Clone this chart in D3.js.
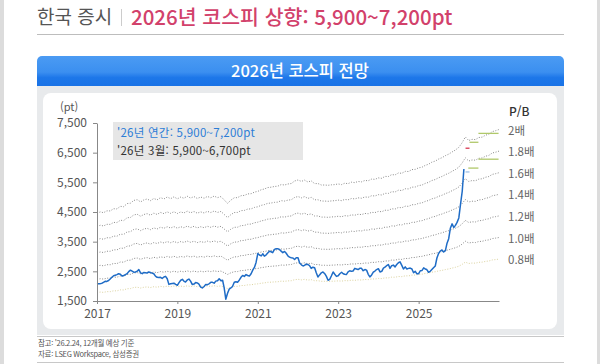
<!DOCTYPE html>
<html lang="ko">
<head>
<meta charset="UTF-8">
<title>2026년 코스피 전망</title>
<script src="https://cdn.jsdelivr.net/npm/d3@7"></script>
<style>
  html, body { margin: 0; padding: 0; background: #fff; }
  svg { display: block; font-family: "Noto Sans CJK KR", "Noto Sans", sans-serif; }
</style>
</head>
<body>
<script>
// KOSPI, 매월 1일/16일 값 (2017.1 ~ 2026.2)
var kospi = [
  2070, 2080, 2085, 2100, 2130, 2165, 2160, 2190, 2240, 2300, 2350, 2370, 2390, 2420, 2400, 2340, 2360, 2390, 2420, 2490, 2540, 2510, 2470, 2480,
  2500, 2560, 2450, 2420, 2460, 2450, 2440, 2480, 2460, 2440, 2420, 2340, 2300, 2290, 2300, 2260, 2310, 2330, 2250, 2060, 2080, 2090, 2100, 2060,
  2030, 2120, 2200, 2230, 2170, 2140, 2210, 2240, 2170, 2060, 2070, 2120, 2110, 2070, 1970, 1940, 1990, 2060, 2050, 2080, 2130, 2130, 2100, 2170,
  2180, 2250, 2180, 2200, 1950, 1560, 1760, 1900, 1940, 1990, 2130, 2150, 2130, 2200, 2300, 2360, 2330, 2390, 2360, 2340, 2420, 2540, 2630, 2800,
  3100, 3050, 3020, 3090, 3010, 3050, 3120, 3180, 3160, 3130, 3240, 3260, 3260, 3240, 3180, 3130, 3170, 3110, 3020, 2980, 2960, 2950, 2900, 2960,
  2960, 2780, 2720, 2680, 2700, 2740, 2730, 2690, 2600, 2640, 2620, 2450, 2310, 2380, 2450, 2480, 2420, 2330, 2200, 2230, 2350, 2480, 2400, 2330,
  2350, 2420, 2470, 2420, 2400, 2390, 2480, 2520, 2500, 2510, 2600, 2580, 2560, 2600, 2600, 2520, 2560, 2540, 2400, 2310, 2380, 2470, 2510, 2560,
  2590, 2480, 2500, 2610, 2640, 2690, 2730, 2600, 2690, 2710, 2650, 2730, 2790, 2820, 2700, 2580, 2650, 2580, 2600, 2610, 2580, 2450, 2500, 2420,
  2420, 2520, 2530, 2620, 2580, 2560, 2470, 2500, 2560, 2620, 2680, 2950, 3100, 3180, 3220, 3150, 3200, 3450, 3600, 3950, 4100, 3980, 4050, 4150,
  4300, 4750, 5200, 5950
];

// 12개월 선행 BPS (P/B 1.0배), 월초 기준 2017.1 ~ 2027.1
var bps = [
  2230, 2252, 2238, 2270, 2268, 2305, 2302, 2345, 2340, 2392, 2398, 2445,
  2458, 2420, 2452, 2470, 2440, 2478, 2455, 2492, 2470, 2502, 2475, 2505,
  2472, 2502, 2482, 2515, 2485, 2510, 2478, 2502, 2482, 2512, 2490, 2518,
  2492, 2510, 2455, 2395, 2450, 2490, 2492, 2525, 2530, 2555, 2558, 2585,
  2598, 2625, 2638, 2662, 2668, 2680, 2685, 2712, 2705, 2722, 2730, 2772,
  2790, 2765, 2788, 2755, 2775, 2728, 2730, 2705, 2705, 2700, 2708, 2712,
  2723, 2712, 2735, 2728, 2752, 2745, 2765, 2758, 2782, 2776, 2805, 2800,
  2825, 2818, 2850, 2848, 2880, 2875, 2908, 2902, 2935, 2932, 2965, 2968,
  2995, 3005, 3035, 3055, 3090, 3108, 3142, 3165, 3200, 3225, 3262, 3295,
  3340, 3420, 3515, 3455, 3475, 3470, 3505, 3512, 3545, 3560, 3605, 3620,
  3640
];

var pbMultiples = [2.0, 1.8, 1.6, 1.4, 1.2, 1.0, 0.8];
var pbLabels = ["2배", "1.8배", "1.6배", "1.4배", "1.2배", "1.0배", "0.8배"];

var yTicks = [1500, 2500, 3500, 4500, 5500, 6500, 7500];
var xTickYears = [2017, 2019, 2021, 2023, 2025];

// 전망 구간 표시
var targetFrom = ["2026-06-28", "2026-06-28", "2026-04-08", "2026-03-28", "2026-03-03", "2026-03-03"];
var targetTo = ["2026-12-28", "2026-12-28", "2026-06-28", "2026-06-28", "2026-04-08", "2026-04-08"];
var targetValues = [7150, 6280, 6850, 5980, 6650, 5850];
var targetKind = ["annual", "annual", "annual", "annual", "march", "last"];

var W = 600, H = 364;
var svg = d3.select("body").append("svg")
    .attr("width", W)
    .attr("height", H);

var defs = svg.append("defs");
var grad = defs.append("linearGradient")
    .attr("id", "hdr")
    .attr("x1", 0).attr("y1", 0).attr("x2", 0).attr("y2", 1);
grad.append("stop").attr("offset", "0").attr("stop-color", "#4b9bf3");
grad.append("stop").attr("offset", "0.45").attr("stop-color", "#3b8ff0");
grad.append("stop").attr("offset", "0.6").attr("stop-color", "#1d77e9");
grad.append("stop").attr("offset", "1").attr("stop-color", "#176fe4");

// page edges
svg.append("rect").attr("x", 0).attr("y", 0).attr("width", 4).attr("height", H).attr("fill", "#dcdcdc");
svg.append("rect").attr("x", 597).attr("y", 0).attr("width", 3).attr("height", H).attr("fill", "#dcdcdc");

// title
svg.append("text")
    .attr("x", 37).attr("y", 24)
    .attr("font-size", 19)
    .attr("fill", "#555")
    .text("한국 증시");
svg.append("line")
    .attr("x1", 121.5).attr("x2", 121.5)
    .attr("y1", 9).attr("y2", 26)
    .attr("stroke", "#ccc");
svg.append("text")
    .attr("x", 131).attr("y", 24.5)
    .attr("font-size", 20.5)
    .attr("font-weight", 500)
    .attr("fill", "#d2416b")
    .text("2026년 코스피 상향: 5,900~7,200pt");
svg.append("line")
    .attr("x1", 37).attr("x2", 564)
    .attr("y1", 34.5).attr("y2", 34.5)
    .attr("stroke", "#bdbdbd");

// header bar + panel
svg.append("rect")
    .attr("x", 37).attr("y", 56)
    .attr("width", 527).attr("height", 36)
    .attr("rx", 5)
    .attr("fill", "url(#hdr)");
svg.append("rect")
    .attr("x", 37).attr("y", 86)
    .attr("width", 527).attr("height", 249)
    .attr("fill", "#e8eaec");
svg.append("text")
    .attr("x", 300).attr("y", 77)
    .attr("text-anchor", "middle")
    .attr("font-size", 16.5)
    .attr("font-weight", 500)
    .attr("fill", "#fff")
    .text("2026년 코스피 전망");
svg.append("rect")
    .attr("x", 43).attr("y", 93)
    .attr("width", 514).attr("height", 236)
    .attr("rx", 8)
    .attr("fill", "#fff");

// notes
svg.append("line").attr("x1", 37).attr("x2", 564).attr("y1", 336.5).attr("y2", 336.5).attr("stroke", "#c8c8c8");
svg.append("line").attr("x1", 37).attr("x2", 564).attr("y1", 362.5).attr("y2", 362.5).attr("stroke", "#c8c8c8");
svg.append("text")
    .attr("x", 38).attr("y", 346)
    .attr("font-size", 7.5)
    .attr("fill", "#555")
    .attr("letter-spacing", -0.3)
    .text("참고: '26.2.24, 12개월 예상 기준");
svg.append("text")
    .attr("x", 38).attr("y", 357)
    .attr("font-size", 7.5)
    .attr("fill", "#555")
    .attr("letter-spacing", -0.3)
    .text("자료: LSEG Workspace, 삼성증권");

// scales
var x = d3.scaleTime()
    .domain([new Date(2017, 0, 1), new Date(2027, 0, 1)])
    .range([97, 499]);
var y = d3.scaleLinear()
    .domain([1500, 7500])
    .range([301, 123]);

function halfMonth(i) {
    return new Date(2017, Math.floor(i / 2), i % 2 ? 16 : 1);
}
function monthStart(i) {
    return new Date(2017, i, 1);
}

// P/B bands
var band = d3.line()
    .x(function(d, i) { return x(monthStart(i)); })
    .y(function(d) { return y(d); });

svg.append("g").selectAll("path")
    .data(pbMultiples)
    .enter()
    .append("path")
    .attr("fill", "none")
    .attr("stroke", function(m) { return m < 1 ? "#dcd3a0" : "#8a8a8a"; })
    .attr("stroke-width", 1)
    .attr("stroke-dasharray", "1,1.6")
    .attr("d", function(m) {
        return band(bps.map(function(b) { return b * m; }));
    });

// target marks
var tKindColor = { annual: "#b0c86a", march: "#d8364f", last: "#9fc0e6" };
svg.append("g").selectAll("line")
    .data(targetValues)
    .enter()
    .append("line")
    .attr("x1", function(d, i) { return x(new Date(targetFrom[i])); })
    .attr("x2", function(d, i) { return x(new Date(targetTo[i])); })
    .attr("y1", function(d) { return y(d); })
    .attr("y2", function(d) { return y(d); })
    .attr("stroke", function(d, i) { return tKindColor[targetKind[i]]; })
    .attr("stroke-width", 1.3);

// KOSPI line
var kLine = d3.line()
    .x(function(d, i) { return x(halfMonth(i)); })
    .y(function(d) { return y(d); });
svg.append("path")
    .datum(kospi)
    .attr("fill", "none")
    .attr("stroke", "#1f6cc6")
    .attr("stroke-width", 1.5)
    .attr("stroke-linejoin", "round")
    .attr("d", kLine);

// axes
var yAxis = svg.append("g")
    .attr("transform", "translate(97,0)")
    .call(d3.axisLeft(y)
        .tickValues(yTicks)
        .tickSize(4)
        .tickSizeOuter(0)
        .tickPadding(6)
        .tickFormat(d3.format(",")));
var xAxis = svg.append("g")
    .attr("transform", "translate(0,301)")
    .call(d3.axisBottom(x)
        .tickValues(xTickYears.map(function(yr) { return new Date(yr, 0, 1); }))
        .tickSize(3)
        .tickSizeOuter(0)
        .tickPadding(5)
        .tickFormat(d3.timeFormat("%Y")));
[yAxis, xAxis].forEach(function(a) {
    a.select(".domain").attr("stroke", "#888");
    a.selectAll(".tick line").attr("stroke", "#888");
    a.selectAll("text")
        .attr("fill", "#555")
        .attr("font-size", 12)
        .attr("font-family", "\"Noto Sans CJK KR\", sans-serif");
});

svg.append("text")
    .attr("x", 60).attr("y", 111)
    .attr("font-size", 11)
    .attr("fill", "#555")
    .text("(pt)");

// P/B labels
svg.append("text")
    .attr("x", 509).attr("y", 116)
    .attr("font-size", 12)
    .attr("font-weight", 500)
    .attr("fill", "#333")
    .text("P/B");
svg.append("g").selectAll("text")
    .data(pbMultiples)
    .enter()
    .append("text")
    .attr("x", 508)
    .attr("y", function(m) { return y(m * bps[bps.length - 1]) + 1; })
    .attr("dy", "0.35em")
    .attr("font-size", 11.5)
    .attr("fill", "#666")
    .text(function(m, i) { return pbLabels[i]; });

// text box
svg.append("rect")
    .attr("x", 113).attr("y", 122)
    .attr("width", 190).attr("height", 38)
    .attr("fill", "#e6e6e6");
svg.append("text")
    .attr("x", 117).attr("y", 137)
    .attr("font-size", 11.5)
    .attr("letter-spacing", 0.25)
    .attr("fill", "#2d7dd6")
    .text("'26년 연간: 5,900~7,200pt");
svg.append("text")
    .attr("x", 117).attr("y", 154.5)
    .attr("font-size", 11.5)
    .attr("letter-spacing", 0.25)
    .attr("fill", "#333")
    .text("'26년 3월: 5,900~6,700pt");
</script>
</body>
</html>
